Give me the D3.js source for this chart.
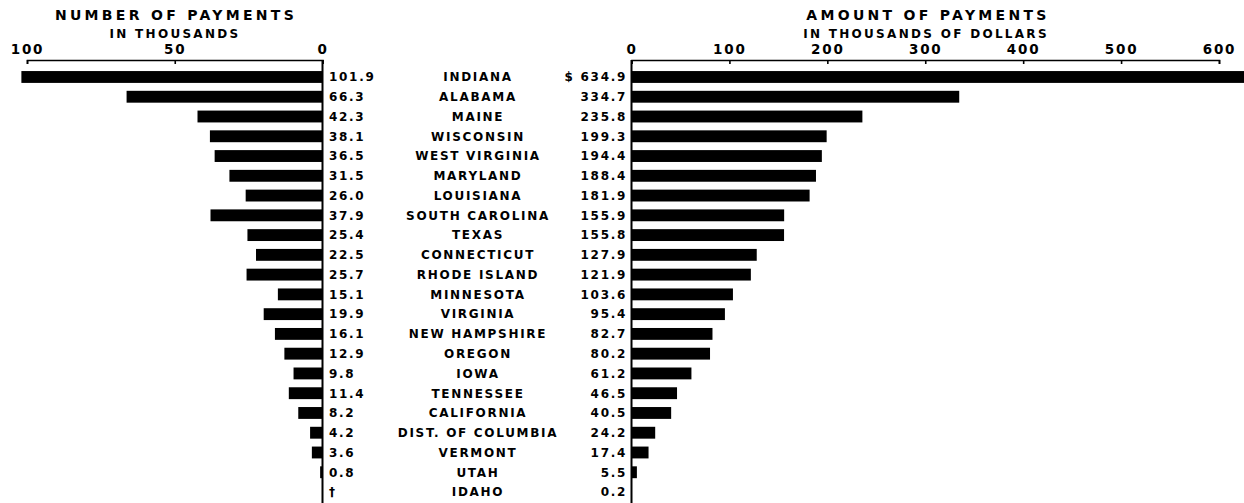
<!DOCTYPE html>
<html>
<head>
<meta charset="utf-8">
<script src="https://cdn.jsdelivr.net/npm/d3@7"></script>
<style>
  body { margin: 0; background: #fff; }
  svg { display: block; }
  text { font-family: "DejaVu Sans", sans-serif; font-weight: bold; fill: #000; }
  .axis path, .axis line { stroke: #000; stroke-width: 1.6; }
  .axis text { font-size: 13.5px; letter-spacing: 1.8px; }
  .title { font-size: 14px; letter-spacing: 3.3px; }
  .subtitle { font-size: 12px; letter-spacing: 2.3px; }
  .row { font-size: 12px; letter-spacing: 1.7px; }
</style>
</head>
<body>
<div id="chart"></div>
<script>
// states, ordered as in the chart
var states = ['INDIANA', 'ALABAMA', 'MAINE', 'WISCONSIN', 'WEST VIRGINIA', 'MARYLAND',
  'LOUISIANA', 'SOUTH CAROLINA', 'TEXAS', 'CONNECTICUT', 'RHODE ISLAND', 'MINNESOTA',
  'VIRGINIA', 'NEW HAMPSHIRE', 'OREGON', 'IOWA', 'TENNESSEE', 'CALIFORNIA',
  'DIST. OF COLUMBIA', 'VERMONT', 'UTAH', 'IDAHO'];

// number of payments, thousands (null = less than 50, shown as dagger)
var payments = [101.9, 66.3, 42.3, 38.1, 36.5, 31.5, 26.0, 37.9, 25.4, 22.5, 25.7, 15.1,
  19.9, 16.1, 12.9, 9.8, 11.4, 8.2, 4.2, 3.6, 0.8, null];

// amount of payments, thousands of dollars
var amounts = [634.9, 334.7, 235.8, 199.3, 194.4, 188.4, 181.9, 155.9, 155.8, 127.9, 121.9,
  103.6, 95.4, 82.7, 80.2, 61.2, 46.5, 40.5, 24.2, 17.4, 5.5, 0.2];

var leftTicks = [0, 50, 100];
var rightTicks = [0, 100, 200, 300, 400, 500, 600];

var width = 1244, height = 503;

var svg = d3.select('#chart').append('svg')
  .attr('width', width)
  .attr('height', height);

var y = d3.scaleBand()
  .domain(states)
  .range([67.1, 501.9])
  .paddingInner(0.4)
  .paddingOuter(0.2);

var xLeft = d3.scaleLinear().domain([0, 100]).range([322.5, 27]);
var xRight = d3.scaleLinear().domain([0, 600]).range([631.5, 1219]);

var axisY = 60;

// axes along the top, ticks pointing down into the plot
svg.append('g')
  .attr('class', 'axis')
  .attr('transform', 'translate(0,' + axisY + ')')
  .call(d3.axisTop(xLeft).tickValues(leftTicks).tickSizeInner(-4).tickSizeOuter(-4).tickPadding(6)
    .tickFormat(d3.format('d')));

svg.append('g')
  .attr('class', 'axis')
  .attr('transform', 'translate(0,' + axisY + ')')
  .call(d3.axisTop(xRight).tickValues(rightTicks).tickSizeInner(-4).tickSizeOuter(-4).tickPadding(6)
    .tickFormat(d3.format('d')));

svg.selectAll('.axis .domain').attr('fill', 'none');
svg.selectAll('.axis text').attr('font-family', null).attr('font-size', null);

// vertical baselines
[xLeft(0), xRight(0)].forEach(function (x) {
  svg.append('line')
    .attr('x1', x).attr('x2', x)
    .attr('y1', axisY).attr('y2', height)
    .attr('stroke', '#000')
    .attr('stroke-width', 2);
});

// bars
var rows = states.map(function (s, i) {
  return { state: s, n: payments[i], amt: amounts[i] };
});

svg.append('g').selectAll('rect')
  .data(rows.filter(function (d) { return d.n != null; }))
  .enter().append('rect')
  .attr('x', function (d) { return xLeft(d.n); })
  .attr('y', function (d) { return y(d.state); })
  .attr('width', function (d) { return xLeft(0) - xLeft(d.n); })
  .attr('height', y.bandwidth())
  .attr('fill', '#000');

svg.append('g').selectAll('rect')
  .data(rows)
  .enter().append('rect')
  .attr('x', xRight(0))
  .attr('y', function (d) { return y(d.state); })
  .attr('width', function (d) { return xRight(d.amt) - xRight(0); })
  .attr('height', y.bandwidth())
  .attr('fill', '#000');

// row labels in the middle column
function cy(d) { return y(d.state) + y.bandwidth() / 2; }

svg.append('g').selectAll('text')
  .data(rows)
  .enter().append('text')
  .attr('class', 'row')
  .attr('x', 329)
  .attr('y', cy)
  .attr('dy', '0.36em')
  .text(function (d) { return d.n == null ? '\u2020' : d.n.toFixed(1); });

svg.append('g').selectAll('text')
  .data(rows)
  .enter().append('text')
  .attr('class', 'row')
  .attr('x', 478)
  .attr('y', cy)
  .attr('dy', '0.36em')
  .attr('text-anchor', 'middle')
  .text(function (d) { return d.state; });

svg.append('g').selectAll('text')
  .data(rows)
  .enter().append('text')
  .attr('class', 'row')
  .attr('x', 627)
  .attr('y', cy)
  .attr('dy', '0.36em')
  .attr('text-anchor', 'end')
  .text(function (d, i) { return (i === 0 ? '$ ' : '') + d.amt.toFixed(1); });

// titles
svg.append('text').attr('class', 'title').attr('x', 176).attr('y', 20)
  .attr('text-anchor', 'middle').text('NUMBER OF PAYMENTS');
svg.append('text').attr('class', 'subtitle').attr('x', 175).attr('y', 38)
  .attr('text-anchor', 'middle').text('IN THOUSANDS');
svg.append('text').attr('class', 'title').attr('x', 928).attr('y', 20)
  .attr('text-anchor', 'middle').text('AMOUNT OF PAYMENTS');
svg.append('text').attr('class', 'subtitle').attr('x', 926).attr('y', 38)
  .attr('text-anchor', 'middle').text('IN THOUSANDS OF DOLLARS');
</script>
</body>
</html>
